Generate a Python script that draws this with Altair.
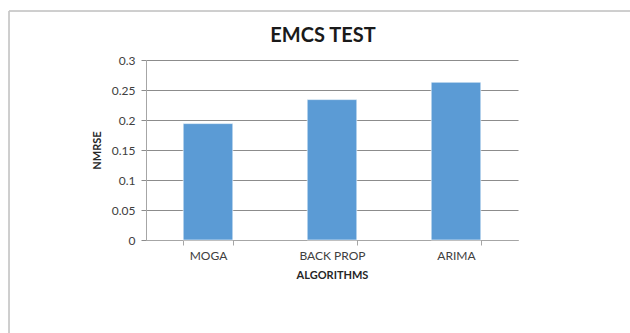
import altair as alt
import pandas as pd

algorithms = ["MOGA", "BACK PROP", "ARIMA"]
nmrse = [0.194, 0.234, 0.263]
chart_title = ["EMCS TEST"]

df = pd.DataFrame({"algorithm": algorithms, "nmrse": nmrse})

FONT = "Lato"

bars = alt.Chart(df).mark_bar(color="#5B9BD5", stroke="#ffffff", strokeWidth=0.6).encode(
    x=alt.X(
        "algorithm:N",
        sort=algorithms,
        scale=alt.Scale(paddingInner=0.6, paddingOuter=0.3),
        axis=alt.Axis(
            title="ALGORITHMS",
            labelAngle=0,
            labelFontSize=12,
            labelColor="#404040",
            labelPadding=5,
            titleFontSize=11,
            titleFontWeight="bold",
            titleColor="#262626",
            titlePadding=8,
            tickBand="extent",
            tickSize=5,
            tickColor="#a6a6a6",
            domainColor="#a6a6a6",
            grid=False,
        ),
    ),
    y=alt.Y(
        "nmrse:Q",
        scale=alt.Scale(domain=[0, 0.3], nice=False),
        axis=alt.Axis(
            title="NMRSE",
            values=[0, 0.05, 0.1, 0.15, 0.2, 0.25, 0.3],
            format="~g",
            labelFontSize=12,
            labelColor="#404040",
            labelPadding=6,
            titleFontSize=11,
            titleFontWeight="bold",
            titleColor="#262626",
            titlePadding=9,
            tickSize=5,
            tickColor="#8c8c8c",
            domainColor="#a6a6a6",
            gridColor="#8c8c8c",
            gridWidth=1,
        ),
    ),
)

# outer frame around the chart
frame = alt.Chart(df).mark_rect(
    fill=None, stroke="#c8c8c8", strokeWidth=1, clip=False
).encode(
    x=alt.value(-137),
    x2=alt.value(500),
    y=alt.value(-49),
    y2=alt.value(300),
)

# chart heading
heading = alt.Chart(pd.DataFrame({"t": chart_title})).mark_text(
    fontSize=20, fontWeight="bold", color="#1a1a1a", font=FONT,
    align="center", baseline="middle",
).encode(
    text="t:N",
    x=alt.value(177),
    y=alt.value(-24),
)

chart = (
    alt.layer(frame, bars, heading)
    .properties(
        width=372,
        height=180,
        padding={"left": 146, "top": 60, "right": 112, "bottom": 93},
        autosize=alt.AutoSizeParams(type="none"),
    )
    .configure(font=FONT)
    .configure_view(stroke=None)
    .configure_axis(labelFont=FONT, titleFont=FONT)
)

chart.save("out.html", embed_options={"renderer": "svg", "actions": False})
